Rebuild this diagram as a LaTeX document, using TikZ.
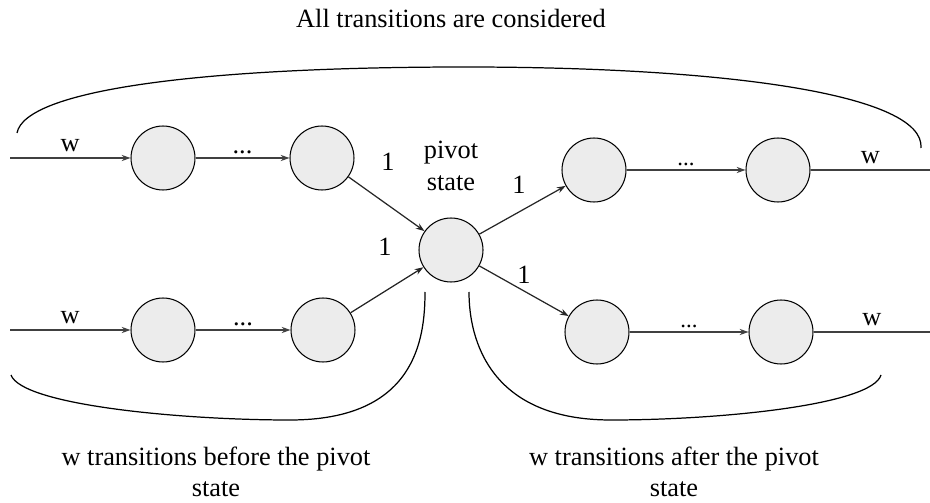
\documentclass[tikz,border=0pt]{standalone}
\usepackage{fontspec}
\setmainfont{Liberation Serif}
\usetikzlibrary{arrows.meta}
\begin{document}
\begin{tikzpicture}[x=0.02cm,y=-0.02cm,
  state/.style={circle,draw=black,line width=0.6pt,fill=gray!15,minimum size=1.28cm,inner sep=0pt},
  hline/.style={draw=black!75,line width=1.1pt,-{Stealth[length=5pt,width=3.5pt]}},
  dline/.style={draw=black!85,line width=0.7pt,-{Stealth[length=5pt,width=3.5pt]}},
  oline/.style={draw=black!75,line width=1.1pt},
  brace/.style={draw=black,line width=0.7pt},
  lab/.style={font=\fontsize{15}{18}\selectfont,inner sep=1pt},
  smalldots/.style={font=\fontsize{13}{15}\selectfont,inner sep=1pt},
  every node/.append style={font=\fontsize{15}{18}\selectfont}]
\useasboundingbox (0,0) rectangle (930,503);
% title
\node[lab] (title) at (451,18) {All transitions are considered};
% nodes
\node[state] (a1) at (163,158) {};
\node[state] (a2) at (322,158) {};
\node[state] (b1) at (163,330) {};
\node[state] (b2) at (323,330) {};
\node[state] (p) at (451,250) {};
\node[state] (c1) at (594,170) {};
\node[state] (c2) at (778,170) {};
\node[state] (d1) at (597,332) {};
\node[state] (d2) at (781,332) {};
\coordinate (ain) at (10,158);
\coordinate (bin) at (10,330);
\coordinate (cout) at (930,170);
\coordinate (dout) at (930,332);
% pivot label
\node[lab,align=center] (pl) at (451,166) {pivot\\state};
% horizontal edges
\draw[hline] (ain) -- node[above,lab,yshift=2pt] {w} (a1);
\draw[hline] (a1) -- node[above,lab,yshift=1pt] {...} (a2);
\draw[hline] (bin) -- node[above,lab,yshift=2pt] {w} (b1);
\draw[hline] (b1) -- node[above,lab,yshift=1pt] {...} (b2);
\draw[hline] (c1) -- node[above,smalldots,yshift=1pt] {...} (c2);
\draw[hline] (d1) -- node[above,smalldots,yshift=1pt] {...} (d2);
\draw[oline] (c2) -- node[above,lab,yshift=2pt] {w} (cout);
\draw[oline] (d2) -- node[above,lab,yshift=2pt] {w} (dout);
% diagonal edges
\draw[dline] (a2) -- (p);
\draw[dline] (b2) -- (p);
\draw[dline] (p) -- (c1);
\draw[dline] (p) -- (d1);
\node[lab] (l1) at (388,162) {1};
\node[lab] (l2) at (385,247) {1};
\node[lab] (l3) at (519,185) {1};
\node[lab] (l4) at (524,275) {1};
% braces
\draw[brace] (17,133) .. controls (25,90) and (200,67) .. (465,67) .. controls (730,67) and (925,95) .. (921,148);
\draw[brace] (11,375) .. controls (22,405) and (180,420) .. (290,420) .. controls (415,420) and (425,340) .. (425,292);
\draw[brace] (469,292) .. controls (469,340) and (490,420) .. (611,420) .. controls (720,420) and (872,405) .. (881,375);
% bottom texts
\node[lab,align=center] (bl) at (216,472) {w transitions before the pivot\\state};
\node[lab,align=center] (br) at (674,472) {w transitions after the pivot\\state};
\end{tikzpicture}
\end{document}
